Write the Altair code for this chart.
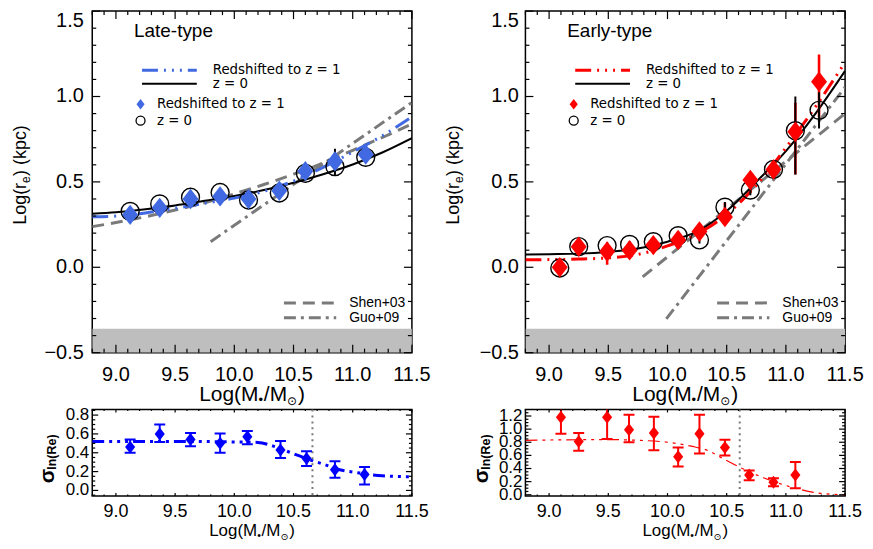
import altair as alt
import pandas as pd

FONT = "Liberation Sans"
LEG_FONT = "DejaVu Sans"
SYM_FONT = "DejaVu Sans"

# ---------------- data ----------------
# Late-type, top panel
late_x     = [9.12, 9.37, 9.63, 9.88, 10.12, 10.38, 10.60, 10.85, 11.11]
late_z0    = [0.327, 0.371, 0.410, 0.438, 0.394, 0.435, 0.550, 0.589, 0.644]
late_z0_lo = [0.307, 0.351, 0.390, 0.418, 0.374, 0.410, 0.525, 0.534, 0.614]
late_z0_hi = [0.347, 0.391, 0.430, 0.458, 0.414, 0.460, 0.575, 0.694, 0.674]
late_z1    = [0.307, 0.348, 0.400, 0.415, 0.400, 0.448, 0.563, 0.620, 0.660]
late_z1_lo = [0.287, 0.328, 0.370, 0.395, 0.380, 0.418, 0.533, 0.570, 0.620]
late_z1_hi = [0.327, 0.368, 0.430, 0.435, 0.420, 0.478, 0.593, 0.670, 0.700]

late_fit_x  = [8.8, 9.0, 9.25, 9.5, 9.75, 10.0, 10.25, 10.5, 10.75, 11.0, 11.25, 11.5]
late_fit_z0 = [0.313, 0.322, 0.340, 0.362, 0.390, 0.418, 0.452, 0.495, 0.545, 0.602, 0.672, 0.756]
late_fit_z1 = [0.296, 0.300, 0.318, 0.345, 0.375, 0.405, 0.445, 0.505, 0.585, 0.675, 0.770, 0.880]
late_shen_y = [0.238, 0.262, 0.296, 0.335, 0.378, 0.430, 0.485, 0.545, 0.610, 0.685, 0.760, 0.840]
late_guo_x  = [9.80, 11.50]
late_guo_y  = [0.150, 0.965]

# Early-type, top panel
early_x     = [9.09, 9.25, 9.49, 9.68, 9.88, 10.09, 10.27, 10.485, 10.70, 10.895, 11.08, 11.28]
early_z0    = [-0.004, 0.121, 0.127, 0.134, 0.150, 0.185, 0.160, 0.352, 0.452, 0.573, 0.800, 0.919]
early_z0_lo = [-0.024, 0.101, 0.107, 0.114, 0.130, 0.165, 0.140, 0.322, 0.422, 0.543, 0.544, 0.813]
early_z0_hi = [0.016, 0.141, 0.147, 0.154, 0.170, 0.205, 0.180, 0.382, 0.482, 0.603, 1.000, 1.025]
early_z1    = [0.000, 0.120, 0.092, 0.100, 0.130, 0.160, 0.210, 0.294, 0.511, 0.573, 0.794, 1.087]
early_z1_lo = [-0.020, 0.100, 0.015, 0.060, 0.080, 0.130, 0.180, 0.285, 0.440, 0.543, 0.544, 0.880]
early_z1_hi = [0.020, 0.140, 0.140, 0.140, 0.170, 0.190, 0.240, 0.380, 0.555, 0.603, 0.964, 1.246]

early_fit_x  = [8.8, 9.0, 9.25, 9.5, 9.75, 10.0, 10.25, 10.5, 10.75, 11.0, 11.25, 11.5]
early_fit_z0 = [0.075, 0.077, 0.080, 0.090, 0.110, 0.150, 0.210, 0.330, 0.500, 0.680, 0.900, 1.150]
early_fit_z1 = [0.044, 0.045, 0.048, 0.055, 0.075, 0.125, 0.195, 0.310, 0.480, 0.700, 0.940, 1.200]
early_shen_x = [9.79, 11.50]
early_shen_y = [-0.056, 0.900]
early_guo_x  = [9.99, 11.50]
early_guo_y  = [-0.302, 1.054]

band_lo = [-0.5]
band_hi = [-0.36]

# Bottom panels: scatter sigma_ln(Re)
sig_late_x  = [9.12, 9.37, 9.63, 9.88, 10.11, 10.39, 10.61, 10.85, 11.10]
sig_late    = [0.46, 0.60, 0.54, 0.50, 0.57, 0.43, 0.34, 0.22, 0.17]
sig_late_lo = [0.40, 0.515, 0.47, 0.40, 0.49, 0.345, 0.26, 0.135, 0.064]
sig_late_hi = [0.54, 0.70, 0.61, 0.605, 0.63, 0.526, 0.416, 0.31, 0.25]
sig_late_fit_x = [8.8, 9.5, 10.0, 10.2, 10.33, 10.52, 10.65, 10.75, 10.89, 11.06, 11.25, 11.5]
sig_late_fit   = [0.52, 0.52, 0.515, 0.51, 0.47, 0.38, 0.32, 0.28, 0.22, 0.185, 0.155, 0.145]
late_mcut = [10.66]

sig_early_x  = [9.10, 9.25, 9.49, 9.675, 9.885, 10.09, 10.27, 10.485, 10.69, 10.895, 11.08]
sig_early    = [1.18, 0.81, 1.18, 0.99, 0.94, 0.58, 0.93, 0.72, 0.30, 0.19, 0.30]
sig_early_lo = [0.93, 0.67, 0.85, 0.80, 0.68, 0.43, 0.63, 0.60, 0.22, 0.13, 0.10]
sig_early_hi = [1.43, 0.94, 1.50, 1.22, 1.19, 0.72, 1.22, 0.84, 0.37, 0.25, 0.50]
sig_early_fit_x = [8.8, 9.5, 9.75, 10.0, 10.2, 10.36, 10.45, 10.62, 10.81, 11.06, 11.26, 11.5]
sig_early_fit   = [0.83, 0.84, 0.83, 0.80, 0.74, 0.66, 0.57, 0.41, 0.26, 0.11, 0.03, 0.0]
early_mcut = [10.61]

# tick values / tick labels
X_MAJOR = [9.0, 9.5, 10.0, 10.5, 11.0, 11.5]
X_MINOR = [8.8, 8.9, 9.1, 9.2, 9.3, 9.4, 9.6, 9.7, 9.8, 9.9, 10.1, 10.2, 10.3, 10.4,
           10.6, 10.7, 10.8, 10.9, 11.1, 11.2, 11.3, 11.4]
TOP_Y_MAJOR = [-0.5, 0.0, 0.5, 1.0, 1.5]
TOP_Y_MINOR = [-0.4, -0.3, -0.2, -0.1, 0.1, 0.2, 0.3, 0.4, 0.6, 0.7, 0.8, 0.9, 1.1, 1.2, 1.3, 1.4]
SL_Y_MAJOR = [0.0, 0.2, 0.4, 0.6, 0.8]
SL_Y_MINOR = [-0.05, 0.05, 0.1, 0.15, 0.25, 0.3, 0.35, 0.45, 0.5, 0.55, 0.65, 0.7, 0.75, 0.85]
SE_Y_MAJOR = [0.0, 0.2, 0.4, 0.6, 0.8, 1.0, 1.2]
SE_Y_MINOR = [0.05, 0.1, 0.15, 0.25, 0.3, 0.35, 0.45, 0.5, 0.55, 0.65, 0.7, 0.75,
              0.85, 0.9, 0.95, 1.05, 1.1, 1.15, 1.25]

# ---------------- styling ----------------
W = 321
HT = 343
HB = 87
ROYAL = "#4169e1"
BLUE = "#0000ff"
RED = "#ff0000"
GRAY = "#7a7a7a"
BANDC = "#bebebe"
DIAMOND = "M0,-1L0.78,0L0,1L-0.78,0Z"
DDD_TOP = [16, 6, 2, 6, 2, 6, 2, 6]
DDD_BOT = [12, 5, 3, 5, 3, 5, 3, 5]
DASH = [12, 7]
DASHDOT = [12, 5, 3, 5]

one = pd.DataFrame({"k": [0]})

AW = {'L': 556, 'o': 556, 'g': 556, '(': 333, ')': 333, 'M': 833, '/': 278, 'r': 333,
      'e': 556, ' ': 278, 'k': 500, 'p': 556, 'c': 500}


def tw(s, size):
    return sum(AW[c] for c in s) * size / 1000.0


def text(s, x, y, size, align="left", baseline="middle", angle=0, dx=0, dy=0,
         weight="normal", font=FONT, color="black"):
    return alt.Chart(one).mark_text(
        text=s, align=align, baseline=baseline, angle=angle, dx=dx, dy=dy,
        fontWeight=weight, font=font, fontSize=size, color=color
    ).encode(x=alt.value(x), y=alt.value(y))


def hline(x1, x2, y, color, width, dash=None):
    kw = dict(color=color, strokeWidth=width)
    if dash:
        kw["strokeDash"] = dash
    return alt.Chart(one).mark_rule(**kw).encode(
        x=alt.value(x1), x2=alt.value(x2), y=alt.value(y))


def marker(x, y, shape, size, filled, color):
    return alt.Chart(one).mark_point(
        shape=shape, size=size, filled=filled, color=color, opacity=1,
        strokeWidth=1.3).encode(x=alt.value(x), y=alt.value(y))


def xtitle(cx, ybase, fs):
    p1, p3, p5 = "Log(M", "/M", ")"
    k = fs / 21.0
    w1, wb, w3, ws, w5 = tw(p1, fs), 5.5 * k, tw(p3, fs), 11.0 * k, tw(p5, fs)
    tot = w1 + wb + w3 + ws + w5
    s = -tot / 2
    return [
        text(p1, cx, ybase, fs, baseline="alphabetic", dx=s),
        text("\u2022", cx, ybase, 13 * k, baseline="alphabetic", dx=s + w1, dy=3 * k),
        text(p3, cx, ybase, fs, baseline="alphabetic", dx=s + w1 + wb),
        text("\u2299", cx, ybase, 12 * k, baseline="alphabetic", dx=s + w1 + wb + w3,
             dy=4 * k, font=SYM_FONT),
        text(p5, cx, ybase, fs, baseline="alphabetic", dx=s + w1 + wb + w3 + ws),
    ]


def ytitle_top(ax, cy):
    p1, p3 = "Log(r", ")  (kpc)"
    w1, we, w3 = tw(p1, 18), 7.0, tw(p3, 18)
    tot = w1 + we + w3
    s = -tot / 2
    return [
        text(p1, ax, cy, 18, baseline="alphabetic", angle=270, dx=s),
        text("e", ax, cy, 12, baseline="alphabetic", angle=270, dx=s + w1, dy=4),
        text(p3, ax, cy, 18, baseline="alphabetic", angle=270, dx=s + w1 + we),
    ]


def ytitle_sigma(ax, ay):
    return [
        text("\u03c3", ax, ay, 21, baseline="alphabetic", angle=270, weight="bold"),
        text("ln(Re)", ax, ay, 12.5, baseline="alphabetic", angle=270, weight="bold",
             dx=13.5, dy=2),
    ]


def tick_layers(xs, ys, w, h, xmaj, xmin, ymaj, ymin, xl, xsl, yl, ysl):
    out = []
    for vals, ln in [(xmaj, xl), (xmin, xsl)]:
        base = alt.Chart(pd.DataFrame({"v": vals})).mark_rule(color="black", strokeWidth=1.2)
        xe = alt.X("v:Q", scale=xs, axis=None)
        out.append(base.encode(x=xe, y=alt.value(h), y2=alt.value(h - ln)))
        out.append(base.encode(x=xe, y=alt.value(0), y2=alt.value(ln)))
    for vals, ln in [(ymaj, yl), (ymin, ysl)]:
        base = alt.Chart(pd.DataFrame({"v": vals})).mark_rule(color="black", strokeWidth=1.2)
        ye = alt.Y("v:Q", scale=ys, axis=None)
        out.append(base.encode(y=ye, x=alt.value(0), x2=alt.value(ln)))
        out.append(base.encode(y=ye, x=alt.value(w), x2=alt.value(w - ln)))
    return out


def xlabels(xs, vals, ypos, size):
    return (alt.Chart(pd.DataFrame({"v": vals}))
            .transform_calculate(lab="format(datum.v, '.1f')")
            .mark_text(align="center", baseline="top", font=FONT, fontSize=size, color="black")
            .encode(x=alt.X("v:Q", scale=xs, axis=None), y=alt.value(ypos),
                    text=alt.Text("lab:N")))


def ylabels(ys, vals, xpos, size, baseline="middle"):
    return (alt.Chart(pd.DataFrame({"v": vals}))
            .transform_calculate(lab="format(datum.v, '.1f')")
            .mark_text(align="right", baseline=baseline, font=FONT, fontSize=size,
                       color="black")
            .encode(y=alt.Y("v:Q", scale=ys, axis=None), x=alt.value(xpos),
                    text=alt.Text("lab:N")))


def top_panel(name, px, z0, z0lo, z0hi, z1, z1lo, z1hi, fx, fz0, fz1,
              sx, sy, gx, gy, col, lab_x):
    xs = alt.Scale(domain=[8.8, 11.5], nice=False, zero=False)
    ys = alt.Scale(domain=[-0.5, 1.5], nice=False, zero=False)
    pts = pd.DataFrame({"x": px, "z0": z0, "z0lo": z0lo, "z0hi": z0hi,
                        "z1": z1, "z1lo": z1lo, "z1hi": z1hi})
    fit = pd.DataFrame({"x": fx, "z0": fz0, "z1": fz1})
    shen = pd.DataFrame({"x": sx, "y": sy})
    guo = pd.DataFrame({"x": gx, "y": gy})
    band = pd.DataFrame({"x": [8.8], "x2": [11.5], "lo": band_lo, "hi": band_hi})

    def X(f):
        return alt.X(f, type="quantitative", scale=xs, axis=None)

    def Y(f):
        return alt.Y(f, type="quantitative", scale=ys, axis=None)

    L = []
    L.append(alt.Chart(band).mark_rect(color=BANDC, clip=True).encode(
        x=X("x"), x2="x2:Q", y=Y("lo"), y2="hi:Q"))
    L.append(alt.Chart(shen).mark_line(color=GRAY, strokeWidth=3, strokeDash=DASH, clip=True,
                                       interpolate="monotone").encode(x=X("x"), y=Y("y")))
    L.append(alt.Chart(guo).mark_line(color=GRAY, strokeWidth=3, strokeDash=DASHDOT, clip=True)
             .encode(x=X("x"), y=Y("y")))
    L.append(alt.Chart(fit).mark_line(color="black", strokeWidth=2, clip=True,
                                      interpolate="monotone").encode(x=X("x"), y=Y("z0")))
    L.append(alt.Chart(fit).mark_line(color=col, strokeWidth=3, strokeDash=DDD_TOP, clip=True,
                                      interpolate="monotone").encode(x=X("x"), y=Y("z1")))
    L.append(alt.Chart(pts).mark_rule(color=col, strokeWidth=2.6, clip=True).encode(
        x=X("x"), y=Y("z1lo"), y2="z1hi:Q"))
    L.append(alt.Chart(pts).mark_rule(color="black", strokeWidth=2, clip=True).encode(
        x=X("x"), y=Y("z0lo"), y2="z0hi:Q"))
    L.append(alt.Chart(pts).mark_point(shape="circle", size=324, filled=False, color="black",
                                       strokeWidth=1.4, opacity=1, clip=True).encode(
        x=X("x"), y=Y("z0")))
    L.append(alt.Chart(pts).mark_point(shape=DIAMOND, size=420, filled=True, color=col,
                                       opacity=1, clip=True).encode(x=X("x"), y=Y("z1")))
    # legend
    L.append(text(name, 42, 20, 19))
    L.append(hline(50, 105, 59.5, col, 3, DDD_TOP))
    L.append(text("Redshifted to z = 1", 121, 59.5, 13.4, font=LEG_FONT))
    L.append(hline(50, 105, 73, "black", 2))
    L.append(text("z = 0", 121, 73.5, 13.4, font=LEG_FONT))
    L.append(marker(48.5, 93.5, DIAMOND, 110, True, col))
    L.append(text("Redshifted to z = 1", 65, 93.5, 13.4, font=LEG_FONT))
    L.append(marker(48.5, 110, "circle", 81, False, "black"))
    L.append(text("z = 0", 65, 110.5, 13.4, font=LEG_FONT))
    L.append(hline(192.5, 245, HT - 50, GRAY, 3, DASH))
    L.append(text("Shen+03", 258, HT - 50, 14))
    L.append(hline(192.5, 245, HT - 35, GRAY, 3, DASHDOT))
    L.append(text("Guo+09", 258, HT - 35, 14))
    L += tick_layers(xs, ys, W, HT, X_MAJOR, X_MINOR, TOP_Y_MAJOR, TOP_Y_MINOR, 8, 4, 8, 4)
    # tick labels
    L.append(xlabels(xs, X_MAJOR, HT + 12, 20))
    L.append(ylabels(ys, TOP_Y_MAJOR[:-1], lab_x, 20))
    L.append(ylabels(ys, TOP_Y_MAJOR[-1:], lab_x, 20, baseline="top"))
    L += ytitle_top(-66.5, 162)
    L += xtitle(W / 2, HT + 49, 21)
    return alt.layer(*L).properties(width=W, height=HT)


def bottom_panel(px, s, lo, hi, fx, fy, cut, ydom, ymaj, ymin, col, lw, dash, lcol):
    xs = alt.Scale(domain=[8.8, 11.5], nice=False, zero=False)
    ys = alt.Scale(domain=ydom, nice=False, zero=False)
    pts = pd.DataFrame({"x": px, "s": s, "lo": lo, "hi": hi})
    fit = pd.DataFrame({"x": fx, "y": fy})
    cutdf = pd.DataFrame({"x": cut})

    def X(f):
        return alt.X(f, type="quantitative", scale=xs, axis=None)

    def Y(f):
        return alt.Y(f, type="quantitative", scale=ys, axis=None)

    L = []
    L.append(alt.Chart(cutdf).mark_rule(color=GRAY, strokeWidth=2, strokeDash=[2, 4]).encode(
        x=X("x")))
    L.append(alt.Chart(fit).mark_line(color=lcol, strokeWidth=lw, strokeDash=dash, clip=True,
                                      interpolate="monotone").encode(x=X("x"), y=Y("y")))
    L.append(alt.Chart(pts).mark_rule(color=col, strokeWidth=2, clip=True).encode(
        x=X("x"), y=Y("lo"), y2="hi:Q"))
    L.append(alt.Chart(pts).mark_rule(color=col, strokeWidth=2, clip=True, xOffset=-5.5,
                                      x2Offset=5.5).encode(x=X("x"), x2="x:Q", y=Y("lo")))
    L.append(alt.Chart(pts).mark_rule(color=col, strokeWidth=2, clip=True, xOffset=-5.5,
                                      x2Offset=5.5).encode(x=X("x"), x2="x:Q", y=Y("hi")))
    L.append(alt.Chart(pts).mark_point(shape=DIAMOND, size=169, filled=True, color=col,
                                       opacity=1, clip=True).encode(x=X("x"), y=Y("s")))
    L += tick_layers(xs, ys, W, HB, X_MAJOR, X_MINOR, ymaj, ymin, 3, 1.5, 6, 3)
    L.append(xlabels(xs, X_MAJOR, HB + 7.5, 18))
    L.append(ylabels(ys, ymaj, -3, 17))
    L += ytitle_sigma(-38, 74)
    L += xtitle(W / 2, HB + 40.5, 17)
    return alt.layer(*L).properties(width=W, height=HB)


TL = top_panel("Late-type", late_x, late_z0, late_z0_lo, late_z0_hi, late_z1, late_z1_lo,
               late_z1_hi, late_fit_x, late_fit_z0, late_fit_z1, late_fit_x, late_shen_y,
               late_guo_x, late_guo_y, ROYAL, -8.5)
TR = top_panel("Early-type", early_x, early_z0, early_z0_lo, early_z0_hi, early_z1,
               early_z1_lo, early_z1_hi, early_fit_x, early_fit_z0, early_fit_z1,
               early_shen_x, early_shen_y, early_guo_x, early_guo_y, RED, -6.5)
BL = bottom_panel(sig_late_x, sig_late, sig_late_lo, sig_late_hi, sig_late_fit_x, sig_late_fit,
                  late_mcut, [-0.06, 0.86], SL_Y_MAJOR, SL_Y_MINOR, BLUE, 3, DDD_BOT, BLUE)
BR = bottom_panel(sig_early_x, sig_early, sig_early_lo, sig_early_hi, sig_early_fit_x,
                  sig_early_fit, early_mcut, [-0.02, 1.30], SE_Y_MAJOR, SE_Y_MINOR, RED, 1.2,
                  DDD_BOT, RED)

chart = alt.concat(TL, TR, BL, BR, columns=2, spacing={"row": 57, "column": 114},
                   bounds="flush").properties(
    padding={"left": 2.6, "top": 0, "right": 0, "bottom": 0},
    background="white",
).configure_view(stroke="black", strokeWidth=1.5)

chart.save("out.html", embed_options={"renderer": "svg", "actions": False})
